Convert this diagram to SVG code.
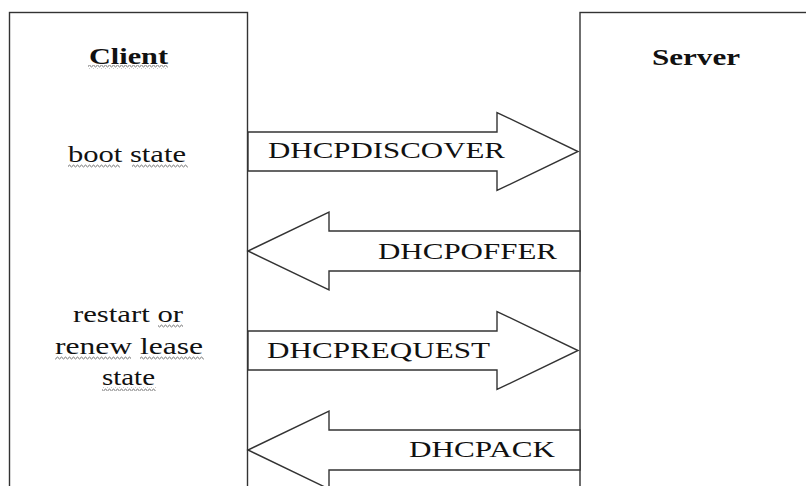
<svg xmlns="http://www.w3.org/2000/svg" width="806" height="486" viewBox="0 0 806 486">
<style>
.box{fill:#fff;stroke:#333;stroke-width:1.4}
.arrow{fill:#fff;stroke:#333;stroke-width:1.4;stroke-linejoin:miter}
.lbl{font-family:"Liberation Serif","Times New Roman",serif;font-size:24px;fill:#111}
.ttl{font-weight:bold}
.msg{font-family:"Liberation Serif","Times New Roman",serif;font-size:23px;fill:#111}
.sq{fill:url(#squig)}
</style>
<defs>
<pattern id="squig" x="0" y="0" width="4" height="4" patternUnits="userSpaceOnUse">
<polyline points="0,3 1,1 2,1 3,3 4,3" fill="none" stroke="#8a8a8a" stroke-width="0.9"/>
</pattern>
</defs>
<rect width="806" height="486" fill="#fff"/>
<g id="client">
<rect class="box" x="9.5" y="12.5" width="238" height="490"/>
<text class="lbl ttl" x="128.5" y="63.5" text-anchor="middle" textLength="79" lengthAdjust="spacingAndGlyphs">Client</text>
<rect class="sq" x="88" y="65" width="80" height="4"/>
<text class="lbl" x="127" y="162" text-anchor="middle" textLength="118" lengthAdjust="spacingAndGlyphs">boot state</text>
<rect class="sq" x="68" y="164" width="52" height="4"/>
<rect class="sq" x="132" y="164" width="56" height="4"/>
<text class="lbl" x="128" y="322" text-anchor="middle" textLength="110" lengthAdjust="spacingAndGlyphs">restart or</text>
<rect class="sq" x="158" y="324" width="25" height="4"/>
<text class="lbl" x="129" y="354" text-anchor="middle" textLength="148" lengthAdjust="spacingAndGlyphs">renew lease</text>
<rect class="sq" x="55" y="356" width="76" height="4"/>
<text class="lbl" x="128.5" y="385" text-anchor="middle" textLength="53" lengthAdjust="spacingAndGlyphs">state</text>
<rect class="sq" x="140" y="356" width="64" height="4"/>
<rect class="sq" x="102" y="387" width="54" height="4"/>
</g>
<g id="server">
<rect class="box" x="580" y="12.5" width="240" height="490"/>
<text class="lbl ttl" x="696" y="65" text-anchor="middle" textLength="88" lengthAdjust="spacingAndGlyphs">Server</text>
</g>
<g id="connectors">
<g id="dhcpdiscover">
<polygon class="arrow" points="248,132 497,132 497,112.5 578,151.5 497,190.5 497,171 248,171"/>
<text class="msg" x="268" y="158" textLength="237" lengthAdjust="spacingAndGlyphs">DHCPDISCOVER</text>
</g>
<g id="dhcpoffer">
<polygon class="arrow" points="580,231 329,231 329,212 248,251 329,290 329,271 580,271"/>
<text class="msg" x="378" y="259" textLength="179" lengthAdjust="spacingAndGlyphs">DHCPOFFER</text>
</g>
<g id="dhcprequest">
<polygon class="arrow" points="248,331 497,331 497,311.5 578,350.5 497,389.5 497,370 248,370"/>
<text class="msg" x="267" y="358" textLength="223" lengthAdjust="spacingAndGlyphs">DHCPREQUEST</text>
</g>
<g id="dhcpack">
<polygon class="arrow" points="580,430 329,430 329,411 248,450 329,489 329,470 580,470"/>
<text class="msg" x="409" y="457" textLength="146" lengthAdjust="spacingAndGlyphs">DHCPACK</text>
</g>
</g>
</svg>
